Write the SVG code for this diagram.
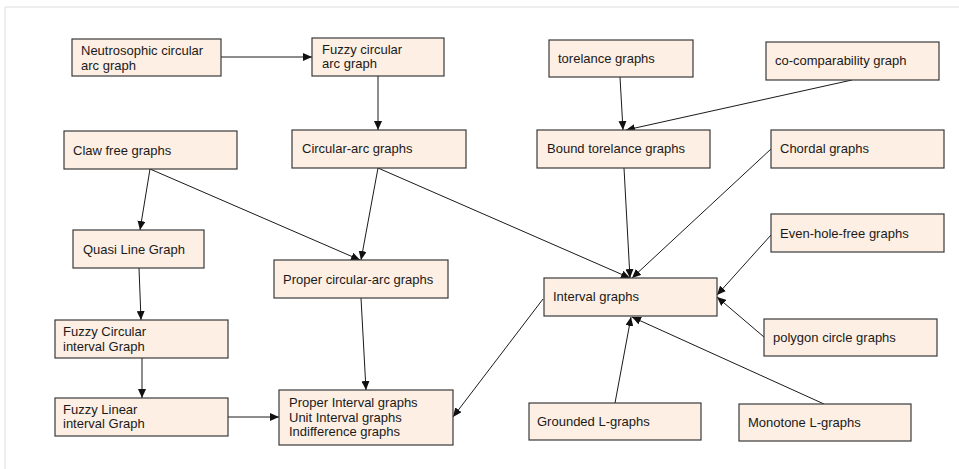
<svg xmlns="http://www.w3.org/2000/svg" width="959" height="469" viewBox="0 0 959 469">
<style>
.n rect{fill:#fdefe3;stroke:#3a3a3a;stroke-width:1.2}
.n text{font-family:"Liberation Sans",Arial,sans-serif;font-size:13px;fill:#1a1a1a}
.c line{stroke:#1a1a1a;stroke-width:1;fill:none;marker-end:url(#ah)}
</style>
<defs>
<marker id="ah" markerUnits="userSpaceOnUse" markerWidth="10" markerHeight="8" refX="9" refY="4" orient="auto">
<path d="M0,0 L9,4 L0,8 Z" fill="#111"/>
</marker>
</defs>
<rect width="959" height="469" fill="#fff"/>
<path d="M5,469 V7 H959" fill="none" stroke="#dcdcdc" stroke-width="1"/>
<g class="c">
<line x1="221" y1="57" x2="312" y2="57"/>
<line x1="378" y1="76" x2="378" y2="130"/>
<line x1="150" y1="169" x2="140" y2="230"/>
<line x1="150" y1="169" x2="360" y2="260"/>
<line x1="378" y1="168" x2="361" y2="260"/>
<line x1="378" y1="168" x2="630" y2="278"/>
<line x1="620" y1="77" x2="623" y2="130"/>
<line x1="852" y1="80" x2="626" y2="130"/>
<line x1="624" y1="168" x2="630" y2="278"/>
<line x1="771" y1="149" x2="632" y2="278"/>
<line x1="139" y1="268" x2="141" y2="320"/>
<line x1="142" y1="358" x2="142" y2="398"/>
<line x1="228" y1="417" x2="279" y2="417"/>
<line x1="361" y1="298" x2="366" y2="390"/>
<line x1="543" y1="299" x2="453" y2="417"/>
<line x1="771" y1="235" x2="717" y2="295"/>
<line x1="764" y1="337" x2="717" y2="297"/>
<line x1="615" y1="403" x2="631" y2="317"/>
<line x1="824" y1="404" x2="632" y2="317"/>
</g>
<g id="neutro" class="n"><rect x="72" y="39" width="149" height="37"/><text x="81" y="55">Neutrosophic  circular</text><text x="81" y="70">arc graph</text></g>
<g id="fuzzyarc" class="n"><rect x="312" y="38" width="132" height="38"/><text x="322" y="54">Fuzzy circular</text><text x="322" y="68">arc graph</text></g>
<g id="claw" class="n"><rect x="64" y="131" width="173" height="38"/><text x="73" y="155">Claw free graphs</text></g>
<g id="circarc" class="n"><rect x="292" y="130" width="174" height="38"/><text x="302" y="153">Circular-arc graphs</text></g>
<g id="tol" class="n"><rect x="549" y="40" width="144" height="37"/><text x="558" y="63">torelance graphs</text></g>
<g id="cocomp" class="n"><rect x="766" y="42" width="173" height="38"/><text x="775" y="65">co-comparability graph</text></g>
<g id="bound" class="n"><rect x="537" y="130" width="173" height="38"/><text x="547" y="153">Bound torelance graphs</text></g>
<g id="chordal" class="n"><rect x="771" y="130" width="173" height="38"/><text x="780" y="153">Chordal graphs</text></g>
<g id="evenhole" class="n"><rect x="771" y="214" width="173" height="38"/><text x="780" y="238">Even-hole-free graphs</text></g>
<g id="quasi" class="n"><rect x="73" y="230" width="131" height="38"/><text x="83" y="254">Quasi Line Graph</text></g>
<g id="propercirc" class="n"><rect x="274" y="260" width="174" height="38"/><text x="283" y="284">Proper circular-arc graphs</text></g>
<g id="interval" class="n"><rect x="544" y="278" width="173" height="38"/><text x="553" y="301">Interval graphs</text></g>
<g id="polygon" class="n"><rect x="764" y="319" width="173" height="37"/><text x="773" y="342">polygon circle graphs</text></g>
<g id="fuzzycircint" class="n"><rect x="55" y="320" width="173" height="38"/><text x="63" y="336">Fuzzy Circular</text><text x="63" y="351">interval Graph</text></g>
<g id="fuzzylin" class="n"><rect x="55" y="398" width="173" height="38"/><text x="63" y="414">Fuzzy Linear</text><text x="63" y="428">interval Graph</text></g>
<g id="properint" class="n"><rect x="279" y="390" width="174" height="55"/><text x="289" y="407">Proper Interval graphs</text><text x="289" y="422">Unit Interval graphs</text><text x="289" y="436">Indifference graphs</text></g>
<g id="grounded" class="n"><rect x="529" y="403" width="172" height="37"/><text x="537" y="426">Grounded L-graphs</text></g>
<g id="monotone" class="n"><rect x="739" y="404" width="172" height="37"/><text x="748" y="427">Monotone L-graphs</text></g>
</svg>
